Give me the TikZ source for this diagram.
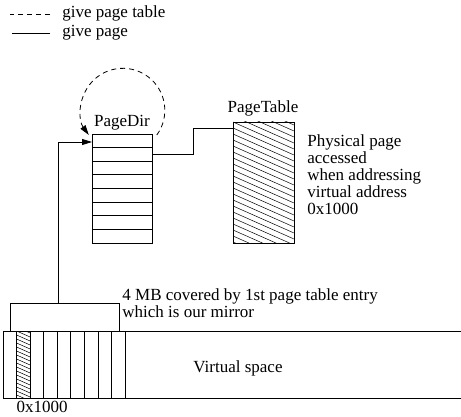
\documentclass[tikz,border=0pt]{standalone}
\usepackage{fontspec}
\setmainfont{Liberation Serif}
\usetikzlibrary{arrows.meta}
\begin{document}
\begin{tikzpicture}[x=1pt,y=-1pt,line width=0.8pt,
  txt/.style={inner sep=0pt,font=\fontsize{17}{17}\selectfont},
  box/.style={draw,inner sep=0pt,line width=0.8pt},
  tip/.style={-{Triangle[length=10pt,width=6pt]}},
  dsh/.style={dash pattern=on 5pt off 4pt},
  hatch/.style={line width=0.5pt}]
\useasboundingbox (0,0) rectangle (461,417);
% legend
\node[txt,anchor=base west] (lg1) at (62,18) {give page table};
\node[txt,anchor=base west] (lg2) at (62,37) {give page};
\draw[dsh] ([xshift=-12pt,yshift=4pt]lg1.base west) -- ++(-40,0);
\draw ([xshift=-12pt,yshift=4pt]lg2.base west) -- ++(-38,0);
% PageDir
\node[box,anchor=north west,minimum width=60pt,minimum height=109pt] (pd) at (92,134) {};
\foreach \i in {1,...,7}
  \draw ([yshift=-\i*13.625pt]pd.north west) -- ([yshift=-\i*13.625pt]pd.north east);
\node[txt,anchor=base] (pdl) at (122,127) {PageDir};
% PageTable
\node[box,anchor=north west,minimum width=61pt,minimum height=121pt] (pt) at (233,122) {};
\begin{scope}
  \clip (pt.north west) rectangle (pt.south east);
  \foreach \k in {-6,...,21}
    \draw[hatch] (233,122+\k*6) -- (294,149+\k*6);
\end{scope}
\node[box,anchor=north west,minimum width=61pt,minimum height=121pt] at (233,122) {};
\node[txt,anchor=base] (ptl) at (263,113) {PageTable};
\node[txt,anchor=north west,align=left,font=\fontsize{17}{17}\selectfont] (phys) at (307,134)
  {Physical page\\accessed\\when addressing\\virtual address\\0x1000};
% PageDir -> PageTable
\draw ([yshift=-20pt]pd.north east) -- ++(41,0) |- ([yshift=-6pt]pt.north west);
% self loop
\draw[dsh,tip] ([xshift=4pt,yshift=-1pt]pd.north east) arc[start angle=36,end angle=-216,radius=42];
% virtual space
\node[box,anchor=north west,minimum width=470pt,minimum height=67pt] (vs) at (3,331) {};
\begin{scope}
  \clip (16.6,331) rectangle (30.1,398);
  \foreach \k in {-4,...,18}
    \draw[hatch] (16.6,331+\k*4) -- (30.1,337+\k*4);
\end{scope}
\foreach \i in {1,...,9}
  \draw ([xshift=\i*13.56pt]vs.north west) -- ([xshift=\i*13.56pt]vs.south west);
\node[txt,anchor=base] (vsl) at (238,372) {Virtual space};
\node[txt,anchor=base] (addr) at (42,412) {0x1000};
% 4 MB box
\node[box,anchor=north west,minimum width=109pt,minimum height=28pt] (mb) at (10,303) {};
\node[txt,anchor=base west,align=left] (mbl) at (122,300) {4 MB covered by 1st page table entry};
\node[txt,anchor=base west] (mbl2) at (122,317) {which is our mirror};
\draw[tip] ([xshift=-6.5pt]mb.north) |- ([yshift=-8pt]pd.north west);
\end{tikzpicture}
\end{document}
